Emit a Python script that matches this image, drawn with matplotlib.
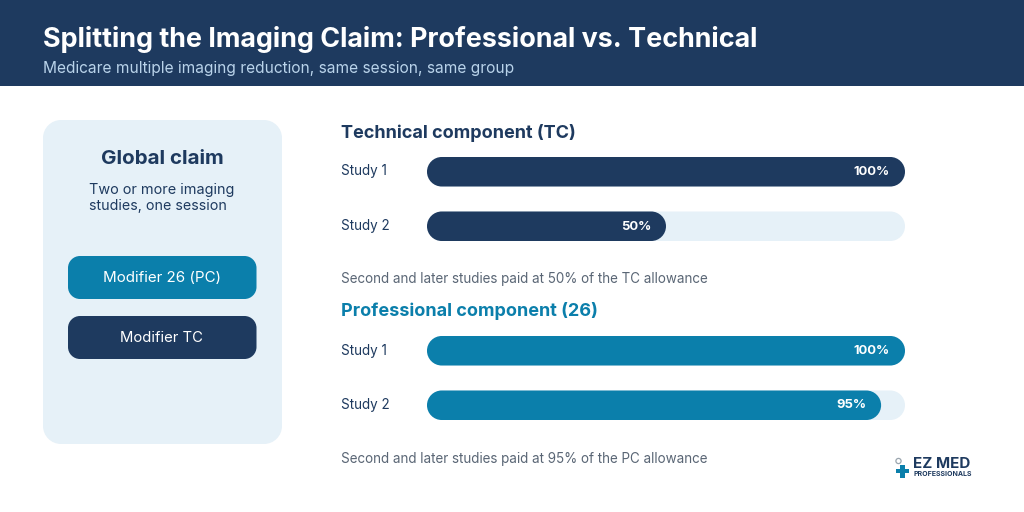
import matplotlib
matplotlib.use("Agg")
import matplotlib.pyplot as plt
from matplotlib.patches import PathPatch, Rectangle
from matplotlib.path import Path

NAVY = "#1E3A5F"
TEAL = "#0B7FAB"
LIGHT = "#E6F1F8"
GRAY = "#5A6675"

title = "Splitting the Imaging Claim: Professional vs. Technical"
subtitle = "Medicare multiple imaging reduction, same session, same group"
card_title = "Global claim"
card_lines = ["Two or more imaging", "studies, one session"]
modifiers = ["Modifier 26 (PC)", "Modifier TC"]
studies = ["Study 1", "Study 2"]
tc_values = [100, 50]
pc_values = [100, 95]
tc_heading = "Technical component (TC)"
pc_heading = "Professional component (26)"
tc_note = "Second and later studies paid at 50% of the TC allowance"
pc_note = "Second and later studies paid at 95% of the PC allowance"

plt.rcParams["font.family"] = ["Inter", "DejaVu Sans"]
fig = plt.figure(figsize=(10.24, 5.12), dpi=100, facecolor="white")

# page axes in pixel units
ax = fig.add_axes([0, 0, 1, 1])
ax.set_xlim(0, 1024)
ax.set_ylim(512, 0)
ax.axis("off")


def rbox(a, x, y, w, h, rx, ry, color, z=1):
    """Rounded rectangle with true circular corners (radii given in data units)."""
    k = 0.5523
    dx, dy = rx * k, ry * k
    x1, y1 = x + w, y + h
    verts = [(x + rx, y), (x1 - rx, y),
             (x1 - rx + dx, y), (x1, y + ry - dy), (x1, y + ry),
             (x1, y1 - ry),
             (x1, y1 - ry + dy), (x1 - rx + dx, y1), (x1 - rx, y1),
             (x + rx, y1),
             (x + rx - dx, y1), (x, y1 - ry + dy), (x, y1 - ry),
             (x, y + ry),
             (x, y + ry - dy), (x + rx - dx, y), (x + rx, y),
             (x + rx, y)]
    codes = [Path.MOVETO, Path.LINETO,
             Path.CURVE4, Path.CURVE4, Path.CURVE4,
             Path.LINETO,
             Path.CURVE4, Path.CURVE4, Path.CURVE4,
             Path.LINETO,
             Path.CURVE4, Path.CURVE4, Path.CURVE4,
             Path.LINETO,
             Path.CURVE4, Path.CURVE4, Path.CURVE4,
             Path.CLOSEPOLY]
    a.add_patch(PathPatch(Path(verts, codes), fc=color, ec="none", zorder=z))


ax.add_patch(Rectangle((0, 0), 1024, 85.5, fc=NAVY, ec="none"))
ax.text(43, 39.5, title, color="white", fontsize=19.4, fontweight="bold", va="center", ha="left")
ax.text(43, 68, subtitle, color="#B9D3EA", fontsize=11.15, va="center", ha="left")

rbox(ax, 43, 120, 239, 324, 18, 18, LIGHT)
ax.text(162, 159.5, card_title, color=NAVY, fontsize=14.8, fontweight="bold", va="center", ha="center")
ax.text(89, 190, card_lines[0], color=NAVY, fontsize=10.4, va="center", ha="left")
ax.text(89, 206, card_lines[1], color=NAVY, fontsize=10.25, va="center", ha="left")

rbox(ax, 68, 256, 188.5, 43, 12, 12, TEAL)
rbox(ax, 68, 316, 188.5, 43, 12, 12, NAVY)
ax.text(162, 278.5, modifiers[0], color="white", fontsize=10.9, va="center", ha="center")
ax.text(162, 338.5, modifiers[1], color="white", fontsize=10.7, va="center", ha="center")

# bar axes: x is percent, y stays in pixel units
bx = fig.add_axes([427 / 1024, 0, 478 / 1024, 1])
bx.set_xlim(0, 100)
bx.set_ylim(512, 0)
bx.axis("off")
px_per_pct = 478 / 100
r_pct = 14.75 / px_per_pct


def group(values, color, heading, note, head_y, rows_y, note_y):
    ax.text(341, head_y, heading, color=color, fontsize=13.0, fontweight="bold", va="center", ha="left")
    for label, v, y in zip(studies, values, rows_y):
        ax.text(341, y + 14.5, label, color=NAVY, fontsize=9.7, va="center", ha="left")
        rbox(bx, 0, y, 100, 29.5, r_pct, 14.75, LIGHT, z=1)
        rbox(bx, 0, y, v, 29.5, r_pct, 14.75, color, z=2)
        bx.annotate(f"{v}%", xy=(v, y + 15), xytext=(-15, 0), textcoords="offset pixels",
                    color="white", fontsize=9.4, fontweight="bold", va="center", ha="right", zorder=3)
    ax.text(341, note_y, note, color=GRAY, fontsize=9.7, va="center", ha="left")


group(tc_values, NAVY, tc_heading, tc_note, 132.5, [157, 211.5], 279.5)
group(pc_values, TEAL, pc_heading, pc_note, 311.5, [336, 390.5], 458.5)

# logo
ax.add_patch(Rectangle((900.3, 464.5), 4.6, 13, fc=TEAL, ec="none"))
ax.add_patch(Rectangle((896, 468.7), 13, 4.6, fc=TEAL, ec="none"))
ax.scatter([898.5], [461], s=14, facecolors="none", edgecolors="#9AA5AE", linewidths=0.9)
ax.text(913, 464, "EZ MED", color=NAVY, fontsize=10.9, fontweight="bold", va="center", ha="left")
ax.text(913, 474, "PROFESSIONALS", color=NAVY, fontsize=5.0, fontweight="bold", va="center", ha="left")

fig.savefig("out.png", dpi=100, facecolor="white")
